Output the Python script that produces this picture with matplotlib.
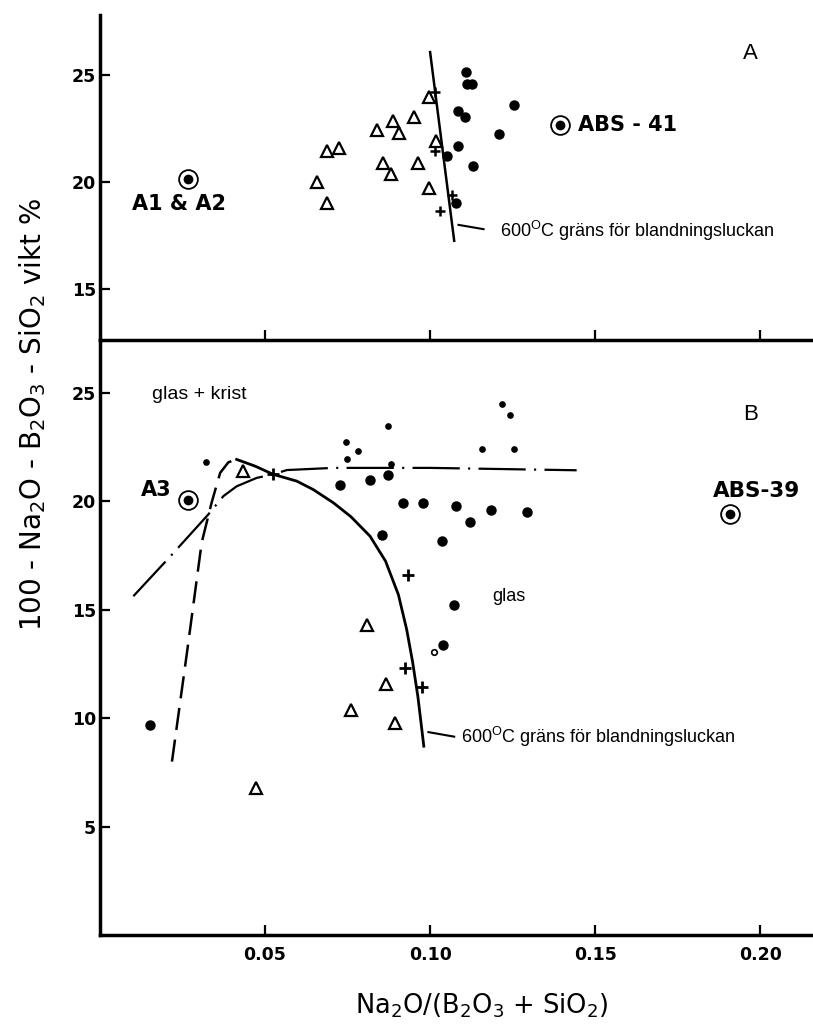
"""
Blandningslucka i Na2O-B2O3-SiO2-glas, diagram A och B.
"""

import matplotlib
matplotlib.use("Agg")
import matplotlib.pyplot as plt

plt.rcParams["mathtext.default"] = "regular"
plt.rcParams["lines.scale_dashes"] = False

# --- Daten Diagramm A ---
a_tri_x = [0.0657, 0.0689, 0.0689, 0.0725, 0.0838, 0.0887, 0.0906, 0.0952,
           0.0856, 0.0881, 0.0963, 0.0997, 0.1018, 0.0998]
a_tri_y = [19.97, 19.0, 21.45, 21.56, 22.42, 22.82, 22.26, 23.04,
           20.87, 20.36, 20.87, 23.94, 21.92, 19.7]

a_dot_x = [0.1108, 0.1112, 0.1128, 0.1086, 0.1106, 0.1255, 0.1210, 0.1086,
           0.1051, 0.1129, 0.1079]
a_dot_y = [25.11, 24.55, 24.55, 23.32, 23.04, 23.60, 22.23, 21.65,
           21.18, 20.72, 19.03]

a_plus_x = [0.1015, 0.1016, 0.1066, 0.1030]
a_plus_y = [24.20, 21.45, 19.39, 18.64]

a_ring_x = [0.0268, 0.1394]
a_ring_y = [20.13, 22.66]

a_line_x = [0.1000, 0.1073]
a_line_y = [26.05, 17.25]

# --- Daten Diagramm B ---
b_tri_x = [0.0434, 0.0474, 0.0810, 0.0761, 0.0867, 0.0893]
b_tri_y = [21.40, 6.79, 14.28, 10.36, 11.56, 9.79]

b_dot_x = [0.0727, 0.0818, 0.0871, 0.0917, 0.0978, 0.1079, 0.1121, 0.0855,
           0.1037, 0.1071, 0.1038, 0.1184, 0.1293, 0.0152]
b_dot_y = [20.78, 20.98, 21.21, 19.94, 19.94, 19.78, 19.06, 18.45,
           18.17, 15.22, 13.40, 19.63, 19.52, 9.71]

b_small_x = [0.0320, 0.0745, 0.0747, 0.0783, 0.0871, 0.0882, 0.1217, 0.1242,
             0.1157, 0.1255]
b_small_y = [21.83, 22.74, 21.94, 22.32, 23.50, 21.75, 24.52, 23.98,
             22.40, 22.40]

b_open_x = [0.1012]
b_open_y = [13.07]

b_plus_x = [0.0525, 0.0934, 0.0924, 0.0976]
b_plus_y = [21.25, 16.59, 12.30, 11.43]

b_ring_x = [0.0268, 0.1909]
b_ring_y = [20.06, 19.40]

# Kurven
sol_x = [0.0414, 0.0470, 0.0525, 0.0596, 0.0646, 0.0707, 0.0760, 0.0818,
         0.0865, 0.0904, 0.0929, 0.0947, 0.0963, 0.0981]
sol_y = [21.94, 21.63, 21.25, 20.94, 20.55, 19.94, 19.30, 18.40,
         17.25, 15.70, 14.10, 12.60, 11.00, 8.71]

dash_x = [0.0218, 0.0265, 0.0308, 0.0338, 0.0364, 0.0389, 0.0414]
dash_y = [8.00, 13.20, 18.10, 19.94, 21.32, 21.81, 21.94]

dd_x = [0.0101, 0.0215, 0.0328, 0.0374, 0.0414, 0.0475, 0.0525, 0.0566,
        0.0707, 0.1000, 0.1444]
dd_y = [15.63, 17.50, 19.40, 20.25, 20.70, 21.09, 21.25, 21.45,
        21.55, 21.55, 21.44]

x_ticks = [0.05, 0.10, 0.15, 0.20]
x_labels = ["0.05", "0.10", "0.15", "0.20"]

W, H = 813, 1030
fig = plt.figure(figsize=(W / 100, H / 100), dpi=100)
axA = fig.add_axes([100 / W, 1 - 340 / H, 713 / W, 325 / H])
axB = fig.add_axes([100 / W, 1 - 935 / H, 713 / W, 595 / H])

for ax in (axA, axB):
    ax.set_xlim(0, 0.216)
    ax.spines["top"].set_visible(False)
    ax.spines["right"].set_visible(False)
    ax.spines["left"].set_linewidth(2.5)
    ax.spines["bottom"].set_linewidth(2.5)
    ax.tick_params(direction="in", length=7, width=1.6, colors="black")
    ax.tick_params(axis="y", pad=3)
    ax.set_xticks(x_ticks)
    ax.patch.set_alpha(0)

axA.set_ylim(12.62, 27.78)
axA.set_yticks([15, 20, 25])
axA.set_xticklabels([])

axB.set_ylim(0, 27.45)
axB.set_yticks([5, 10, 15, 20, 25])
axB.set_xticklabels(x_labels)
axB.tick_params(axis="x", pad=8)

for ax in (axA, axB):
    for lab in ax.get_yticklabels() + ax.get_xticklabels():
        lab.set_fontweight("bold")
        lab.set_fontsize(12.5)

tri = dict(linestyle="none", marker="^", ms=8, mfc="white", mec="black", mew=1.6)
dot = dict(linestyle="none", marker="o", ms=6.5, color="black")
plus = dict(linestyle="none", marker="+", color="black")

# --- Diagramm A ---
axA.plot(a_line_x, a_line_y, color="black", lw=1.8)
axA.plot(a_tri_x, a_tri_y, **tri)
axA.plot(a_dot_x, a_dot_y, **dot)
axA.plot(a_plus_x, a_plus_y, ms=7, mew=1.8, **plus)
axA.plot(a_ring_x, a_ring_y, linestyle="none", marker="o", ms=13.5,
         mfc="none", mec="black", mew=1.3)
axA.plot(a_ring_x, a_ring_y, linestyle="none", marker="o", ms=6, color="black")

axA.text(0.0096, 18.96, "A1 & A2", fontsize=15, fontweight="bold", va="center")
axA.text(0.1448, 22.66, "ABS - 41", fontsize=15, fontweight="bold", va="center")
axA.text(0.197, 25.97, "A", fontsize=16, family="Liberation Sans",
         ha="center", va="center")
axA.plot([0.1086, 0.1162], [17.99, 17.79], color="black", lw=1.5)
axA.text(0.1212, 17.71, "600$^{O}$C gräns för blandningsluckan", fontsize=13,
         family="Liberation Sans", va="center")

# --- Diagramm B ---
axB.plot(sol_x, sol_y, color="black", lw=2.0)
axB.plot(dash_x, dash_y, color="black", lw=1.8, linestyle=(0, (16, 7)))
axB.plot(dd_x, dd_y, color="black", lw=1.6,
         linestyle=(0, (34, 6, 1.5, 6)))
axB.plot(b_tri_x, b_tri_y, **tri)
axB.plot(b_dot_x, b_dot_y, **dot)
axB.plot(b_small_x, b_small_y, linestyle="none", marker="o", ms=3.8, color="black")
axB.plot(b_open_x, b_open_y, linestyle="none", marker="o", ms=4, mfc="white",
         mec="black", mew=1.2)
axB.plot(b_plus_x, b_plus_y, ms=8, mew=2.0, **plus)
axB.plot(b_ring_x, b_ring_y, linestyle="none", marker="o", ms=13.5,
         mfc="none", mec="black", mew=1.3)
axB.plot(b_ring_x, b_ring_y, linestyle="none", marker="o", ms=6, color="black")

axB.text(0.0217, 20.55, "A3", fontsize=15, fontweight="bold", ha="right", va="center")
axB.text(0.199, 20.48, "ABS-39", fontsize=15.5, fontweight="bold", ha="center", va="center")
axB.text(0.197, 24.01, "B", fontsize=16, family="Liberation Sans",
         ha="center", va="center")
axB.text(0.0157, 24.94, "glas + krist", fontsize=14, family="Liberation Sans", va="center")
axB.text(0.1187, 15.63, "glas", fontsize=13, family="Liberation Sans", va="center")
axB.plot([0.0995, 0.1073], [9.36, 9.15], color="black", lw=1.5)
axB.text(0.1094, 9.15, "600$^{O}$C gräns för blandningsluckan", fontsize=13,
         family="Liberation Sans", va="center")

# --- Achsentitel ---
fig.text(33 / W, 1 - 415 / H, "100 - Na$_2$O - B$_2$O$_3$ - SiO$_2$ vikt %",
         rotation=90, ha="center", va="center", fontsize=20)
fig.text(482 / W, 1 - 1006 / H, "Na$_2$O/(B$_2$O$_3$ + SiO$_2$)",
         ha="center", va="center", fontsize=18.5)

fig.savefig("out.png", dpi=100)
